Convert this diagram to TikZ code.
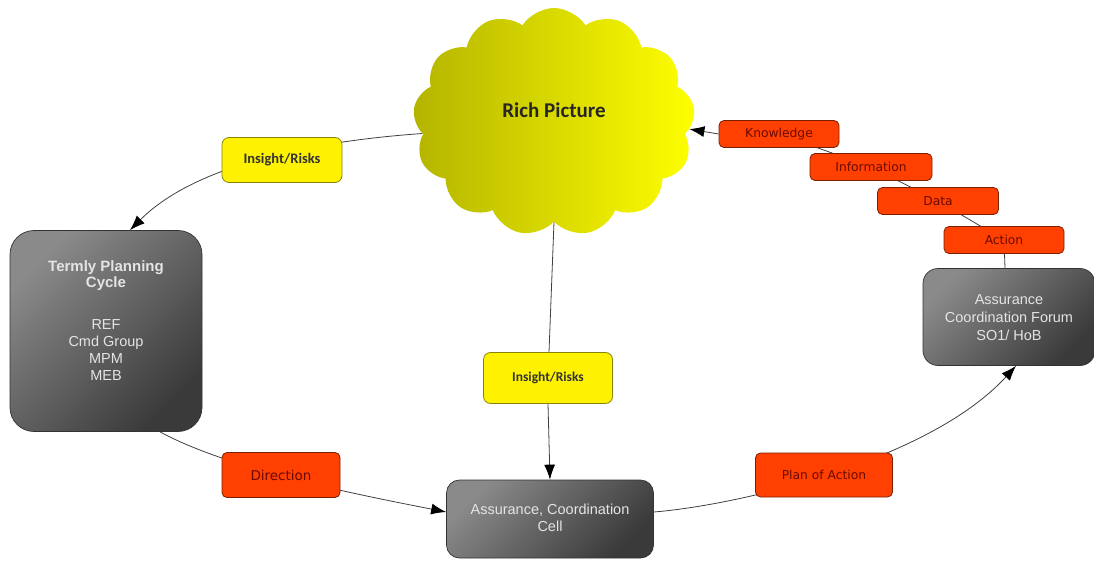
\documentclass[tikz,border=0pt]{standalone}
\usepackage{fontspec}
\setmainfont{Liberation Sans}
\newfontfamily\calib{Carlito}
\newfontfamily\tah{DejaVu Sans}
\usetikzlibrary{shapes.symbols,arrows.meta,backgrounds}
\definecolor{gtop}{HTML}{8A8A8A}
\definecolor{gbot}{HTML}{3A3A3A}
\definecolor{redfill}{HTML}{FF4000}
\definecolor{redline}{HTML}{7A1E00}
\definecolor{redtext}{HTML}{6A0A00}
\definecolor{yelline}{HTML}{85850A}
\definecolor{cloudl}{HTML}{B4B400}
\definecolor{cloudm}{HTML}{EBEB00}
\definecolor{graytext}{HTML}{E4E4E4}
\begin{document}
\begin{tikzpicture}[x=1pt,y=-1pt,
  graybox/.style={draw=black!80, line width=0.7pt, top color=gtop, bottom color=gbot, shading angle=45,
    text=graytext, align=center, font=\fontsize{14.5}{18}\selectfont},
  yelbox/.style={draw=yelline, line width=0.8pt, fill=yellow, rounded corners=7pt,
    minimum width=120pt, minimum height=45pt, font=\calib\bfseries\fontsize{14.5}{16}\selectfont, text=black!80},
  redbox/.style={draw=redline, line width=0.8pt, fill=redfill, rounded corners=5pt,
    minimum width=120pt, minimum height=27pt, font=\tah\fontsize{12.3}{14}\selectfont, text=redtext},
  conn/.style={draw=black!75, line width=0.8pt},
  arr/.style={conn, -{Latex[length=15pt,width=11pt,black]}}
]
\useasboundingbox (0,0) rectangle (1094,561);

% cloud
\node[cloud, cloud puffs=13, cloud puff arc=115, cloud ignores aspect,
  minimum width=282pt, minimum height=228pt, left color=cloudl, middle color=cloudm, right color=yellow,
  font=\calib\bfseries\fontsize{21}{24}\selectfont, text=black!85] (rp) at (554,122)
  {\raisebox{0pt}[\height][\dimexpr\depth+24pt]{Rich Picture}};

% gray boxes
\node[graybox, rounded corners=24pt, minimum width=192pt, minimum height=201pt] (tpc) at (106,331)
  {\raisebox{0pt}[\height][\dimexpr\depth+18pt]{\begin{tabular}{c}\fontsize{15}{16}\selectfont\bfseries Termly Planning\\[-2pt]
   \fontsize{15}{16}\selectfont\bfseries Cycle\\[24pt]
   REF\\[-1pt] Cmd Group\\[-1pt] MPM\\[-1pt] MEB\end{tabular}}};
\node[graybox, rounded corners=13pt, minimum width=207pt, minimum height=78pt] (acc) at (550,519)
  {\begin{tabular}{c}Assurance, Coordination\\[-1pt] Cell\end{tabular}};
\node[graybox, rounded corners=15pt, minimum width=172pt, minimum height=97pt] (acf) at (1009,317)
  {\raisebox{0pt}[\dimexpr\height+4pt][\depth]{\begin{tabular}{c}Assurance\\[0pt] Coordination Forum\\[0pt] SO1/ HoB\end{tabular}}};

% yellow labels
\node[yelbox] (ir1) at (282,160) {Insight/Risks};
\node[yelbox, minimum width=129pt, minimum height=51pt, font=\calib\bfseries\fontsize{13.5}{16}\selectfont] (ir2) at (548,378) {Insight/Risks};

% red labels
\node[redbox, minimum width=118pt, minimum height=45pt, font=\tah\fontsize{13.5}{16}\selectfont] (dir) at (281,475) {Direction};
\node[redbox, minimum width=137pt, minimum height=44pt] (poa) at (824,475) {Plan of Action};
\node[redbox] (know) at (779,134) {Knowledge};
\node[redbox, minimum width=122pt] (info) at (871,167) {Information};
\node[redbox, minimum width=121pt] (data) at (938,201) {Data};
\node[redbox] (act) at (1004,240) {Action};

% connectors
\begin{scope}[on background layer]
\draw[arr] (rp.185) .. controls (330,140) and (200,160) .. ([xshift=24pt]tpc.north);
\draw[arr] ([xshift=54pt]tpc.south) .. controls (230,470) and (360,495) .. ([yshift=7pt]acc.west);
\draw[arr] ([yshift=7pt]acc.east) .. controls (740,505) and (930,460) .. ([xshift=7pt]acf.south);
\draw[conn] ([xshift=-4pt]acf.north) -- (act.center) -- (data.center) -- (info.center) -- (know.center);
\draw[conn] (rp.south) -- (ir2.center);
\end{scope}
\draw[arr] (know.west) -- (rp.-3);
\draw[arr] (ir2.south) -- (acc.north);
\end{tikzpicture}
\end{document}
